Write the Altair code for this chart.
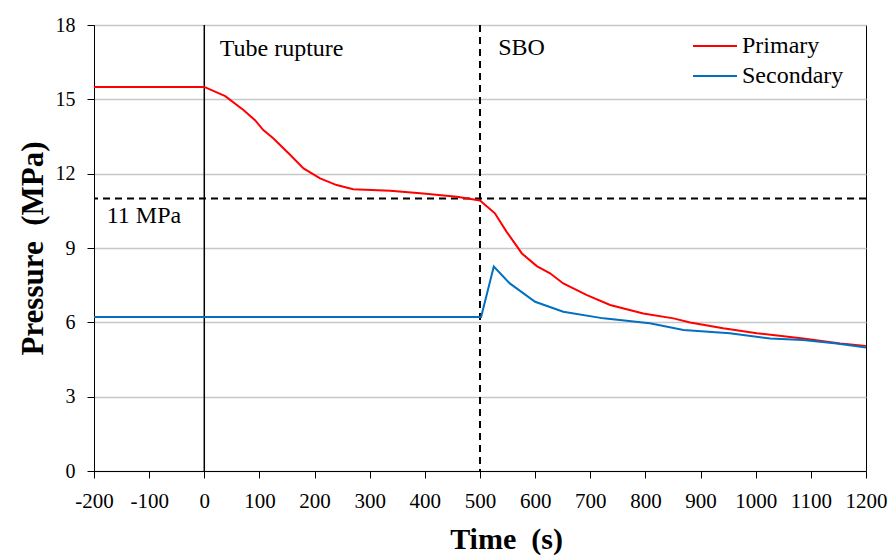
import altair as alt
import pandas as pd

# ---- data ----
primary_t = [-200, 0, 38, 71, 92, 107, 125, 156, 180, 210, 240, 270, 337, 397, 458, 500,
             527, 548, 576, 603, 627, 651, 694, 736, 796, 851, 881, 941, 1002, 1086, 1153, 1200]
primary_p = [15.5, 15.5, 15.13, 14.57, 14.16, 13.76, 13.43, 12.75, 12.21, 11.81, 11.54, 11.37,
             11.31, 11.2, 11.07, 10.92, 10.4, 9.66, 8.78, 8.27, 7.98, 7.57, 7.1, 6.7, 6.36,
             6.16, 5.99, 5.76, 5.56, 5.35, 5.15, 5.05]
secondary_t = [-200, 502, 525, 554, 600, 651, 724, 808, 869, 953, 1026, 1086, 1147, 1200]
secondary_p = [6.22, 6.22, 8.25, 7.57, 6.83, 6.43, 6.16, 5.96, 5.69, 5.56, 5.35, 5.29, 5.15, 4.98]

series_names = ["Primary", "Secondary"]
series_colors = ["#FF0000", "#0070C0"]

x_ticks = list(range(-200, 1201, 100))
y_ticks = [0, 3, 6, 9, 12, 15, 18]

event_solid_t = [0]
event_dashed_t = [500]
threshold_p = [11]

annot_text = ["Tube rupture", "SBO", "11 MPa"]
annot_t = [28, 533, -177]
annot_p = [16.75, 16.8, 10.0]

# ---- tables ----
df = pd.concat([
    pd.DataFrame({"t": primary_t, "p": primary_p, "series": series_names[0]}),
    pd.DataFrame({"t": secondary_t, "p": secondary_p, "series": series_names[1]}),
], ignore_index=True)

FONT = "Liberation Serif"
x_scale = alt.Scale(domain=[-200, 1200], nice=False, zero=False)
y_scale = alt.Scale(domain=[0, 18], nice=False, zero=False)

x_axis = alt.Axis(values=x_ticks, title="Time\u00a0 (s)", grid=False,
                  labelExpr="'' + datum.value",
                  labelFontSize=21, labelPadding=12, tickSize=7,
                  titleFontSize=30, titleFontWeight="bold",
                  titleX=412, titleY=77, titleBaseline="alphabetic",
                  titleAlign="center", labelFlush=False)
y_axis = alt.Axis(values=y_ticks, title="Pressure\u00a0 (MPa)", grid=True,
                  labelExpr="'' + datum.value",
                  gridColor="#c8c8c8", gridWidth=1.5,
                  labelFontSize=20, labelPadding=12, tickSize=7,
                  titleFontSize=31, titleFontWeight="bold",
                  titleX=-52, titleY=223, titleAngle=-90,
                  titleBaseline="alphabetic", titleAlign="center")


def X():
    return alt.X("t:Q", scale=x_scale, axis=x_axis)


def Y():
    return alt.Y("p:Q", scale=y_scale, axis=y_axis)


lines = alt.Chart(df).mark_line(strokeWidth=2).encode(
    x=X(), y=Y(),
    color=alt.Color("series:N",
                    scale=alt.Scale(domain=series_names, range=series_colors),
                    legend=alt.Legend(orient="none", legendX=598, legendY=9, title=None,
                                      symbolType="stroke", symbolSize=1936,
                                      symbolStrokeWidth=2, labelFont=FONT,
                                      labelFontSize=24, labelColor="black",
                                      clipHeight=24, rowPadding=6, labelOffset=4,
                                      padding=0)),
)

vsolid = alt.Chart(pd.DataFrame({"t": event_solid_t})).mark_rule(
    color="black", strokeWidth=1.5).encode(x=X())

vdash = alt.Chart(pd.DataFrame({"t": event_dashed_t})).mark_rule(
    color="black", strokeWidth=2, strokeDash=[7, 5]).encode(x=X())

hdash = alt.Chart(pd.DataFrame({"p": threshold_p})).mark_rule(
    color="black", strokeWidth=2, strokeDash=[7, 5]).encode(y=Y())

annots = alt.Chart(pd.DataFrame({"t": annot_t, "p": annot_p, "label": annot_text})).mark_text(
    align="left", baseline="alphabetic", font=FONT, fontSize=24, color="black").encode(
    x=X(), y=Y(), text="label:N")

chart = alt.layer(hdash, vsolid, vdash, lines, annots).properties(
    width=772, height=446,
    autosize=alt.AutoSizeParams(type="none"),
    padding={"left": 94, "top": 25, "right": 27, "bottom": 85},
    background="white",
).configure_axis(
    labelFont=FONT, titleFont=FONT, labelColor="black", titleColor="black",
    domainColor="black", tickColor="black", domainWidth=1, tickWidth=1,
).configure_view(stroke="black", strokeWidth=1)

chart.save("out.html", embed_options={"renderer": "svg", "actions": False})
